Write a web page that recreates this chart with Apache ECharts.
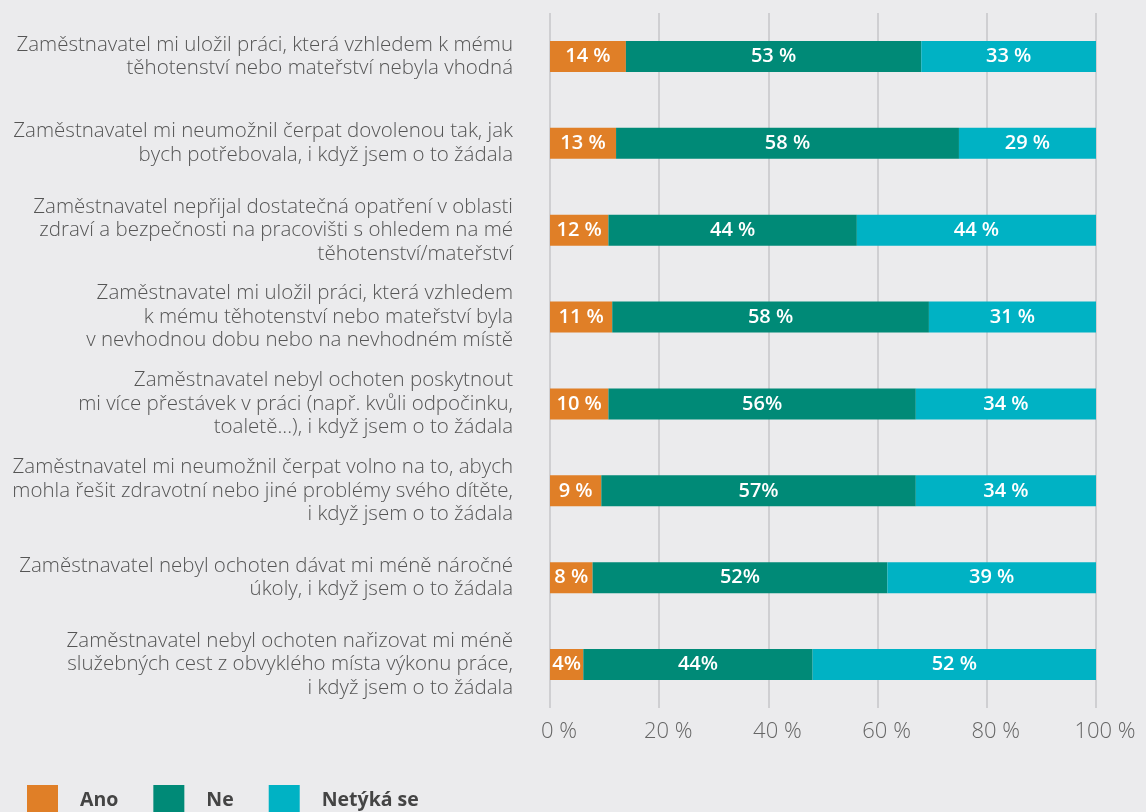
<!DOCTYPE html>
<html>
<head>
<meta charset="utf-8">
<style>
  html, body { margin: 0; padding: 0; background: #ebebed; }
  #chart { width: 1146px; height: 812px; }
</style>
<script src="https://cdn.jsdelivr.net/npm/echarts@6/dist/echarts.min.js"></script>
</head>
<body>
<div id="chart"></div>
<script>
// Categories, top to bottom
const categories = [
    'Zaměstnavatel mi uložil práci, která vzhledem k mému\ntěhotenství nebo mateřství nebyla vhodná',
    'Zaměstnavatel mi neumožnil čerpat dovolenou tak, jak\nbych potřebovala, i když jsem o to žádala',
    'Zaměstnavatel nepřijal dostatečná opatření v oblasti\nzdraví a bezpečnosti na pracovišti s ohledem na mé\ntěhotenství/mateřství',
    'Zaměstnavatel mi uložil práci, která vzhledem\nk mému těhotenství nebo mateřství byla\nv nevhodnou dobu nebo na nevhodném místě',
    'Zaměstnavatel nebyl ochoten poskytnout\nmi více přestávek v práci (např. kvůli odpočinku,\ntoaletě...), i když jsem o to žádala',
    'Zaměstnavatel mi neumožnil čerpat volno na to, abych\nmohla řešit zdravotní nebo jiné problémy svého dítěte,\ni když jsem o to žádala',
    'Zaměstnavatel nebyl ochoten dávat mi méně náročné\núkoly, i když jsem o to žádala',
    'Zaměstnavatel nebyl ochoten nařizovat mi méně\nslužebných cest z obvyklého místa výkonu práce,\ni když jsem o to žádala'
];

// Segment widths as drawn (%)
const anoValues = [13.9, 12.1, 10.7, 11.4, 10.7, 9.4, 7.8, 6.1];
const neValues = [54.1, 62.8, 45.5, 58.0, 56.3, 57.6, 54.0, 42.0];
const netykaValues = [32.0, 25.1, 43.8, 30.6, 33.0, 33.0, 38.2, 51.9];

// Printed labels
const anoLabels = ['14 %', '13 %', '12 %', '11 %', '10 %', '9 %', '8 %', '4%'];
const neLabels = ['53 %', '58 %', '44 %', '58 %', '56%', '57%', '52%', '44%'];
const netykaLabels = ['33 %', '29 %', '44 %', '31 %', '34 %', '34 %', '39 %', '52 %'];

const seriesNames = ['Ano', 'Ne', 'Netýká se'];
const colors = ['#e07f27', '#008a77', '#00b2c4'];
const xTicks = [0, 20, 40, 60, 80, 100];

const chart = echarts.init(document.getElementById('chart'));

function makeSeries(name, values, labels, color) {
    return {
        name: name,
        type: 'bar',
        stack: 'total',
        barWidth: 31,
        data: values,
        itemStyle: { color: color },
        label: {
            show: true,
            position: 'inside',
            color: '#fff',
            fontFamily: 'Open Sans',
            fontWeight: 600,
            fontSize: 20,
            formatter: p => labels[p.dataIndex]
        }
    };
}

const option = {
    backgroundColor: '#ebebed',
    animation: false,
    grid: { left: 550, right: 50, top: 13, bottom: 104 },
    legend: {
        left: 27,
        top: 785,
        padding: 0,
        itemWidth: 31,
        itemHeight: 30,
        itemGap: 35,
        icon: 'rect',
        data: seriesNames,
        textStyle: {
            color: '#444',
            fontFamily: 'Open Sans',
            fontWeight: 'bold',
            fontSize: 19.5,
            padding: [0, 0, 0, 17]
        }
    },
    xAxis: {
        type: 'value',
        min: 0,
        max: 100,
        interval: 20,
        axisLine: { show: false },
        axisTick: { show: false },
        splitLine: { show: true, lineStyle: { color: '#c6c6c8', width: 1.5 } },
        axisLabel: {
            margin: 13,
            color: '#666',
            fontFamily: 'Open Sans',
            fontWeight: 300,
            fontSize: 22,
            padding: [0, 0, 0, 18],
            formatter: v => xTicks.includes(v) ? v + ' %' : ''
        }
    },
    yAxis: {
        type: 'category',
        inverse: true,
        data: categories,
        axisLine: { show: false },
        axisTick: { show: false },
        axisLabel: {
            margin: 37,
            align: 'right',
            color: '#555',
            fontFamily: 'Open Sans',
            fontWeight: 300,
            fontSize: 20.5,
            lineHeight: 23.5
        }
    },
    series: [
        makeSeries(seriesNames[0], anoValues, anoLabels, colors[0]),
        makeSeries(seriesNames[1], neValues, neLabels, colors[1]),
        makeSeries(seriesNames[2], netykaValues, netykaLabels, colors[2])
    ]
};

chart.setOption(option);

window.addEventListener('resize', () => {
    chart.resize();
});
</script>
</body>
</html>
